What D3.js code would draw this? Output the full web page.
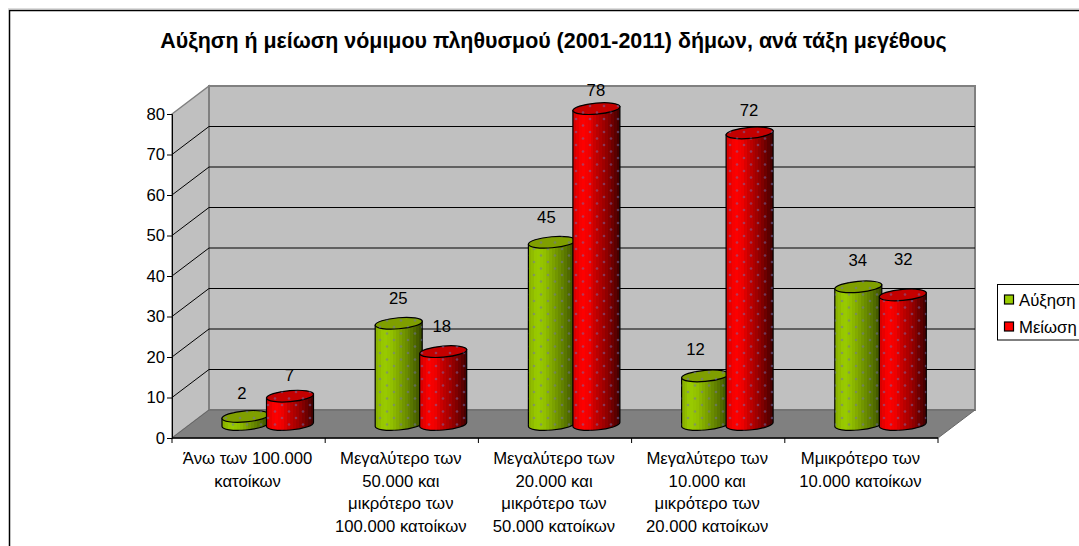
<!DOCTYPE html>
<html><head><meta charset="utf-8">
<script src="https://cdn.jsdelivr.net/npm/d3@7"></script>
<style>html,body{margin:0;padding:0;background:#fff}svg{display:block}text{font-family:"Liberation Sans",Arial,sans-serif;fill:#000}</style>
</head><body><svg id="c" width="1079" height="546"></svg>
<script>
const title = "Αύξηση ή μείωση νόμιμου πληθυσμού (2001-2011) δήμων, ανά τάξη μεγέθους";
const categories = [
  ["Άνω των 100.000","κατοίκων"],
  ["Μεγαλύτερο των","50.000 και","μικρότερο των","100.000 κατοίκων"],
  ["Μεγαλύτερο των","20.000 και","μικρότερο των","50.000 κατοίκων"],
  ["Μεγαλύτερο των","10.000 και","μικρότερο των","20.000 κατοίκων"],
  ["Μμικρότερο των","10.000 κατοίκων"]
];
const seriesNames = ["Αύξηση","Μείωση"];
const increase = [2,25,45,12,34];
const decrease = [7,18,78,72,32];
const yTicks = [0,10,20,30,40,50,60,70,80];

const svg = d3.select("#c");
const X0=172, X1=938, Y0=438, Y80=114, DX=37, DY=-28;
const x = d3.scaleBand().domain(d3.range(categories.length)).range([X0,X1]);
const y = d3.scaleLinear().domain([0,80]).range([Y0,Y80]);
const inner = d3.scaleBand().domain([0,1]).range([50,139]);
const FS=16.7;

// Chart frame
svg.append("path").attr("d","M9.5,546V10.5H1079").attr("fill","none").attr("stroke","#000").attr("stroke-width",1.5);
svg.append("path").attr("d","M8,9H1079").attr("stroke","#bbb").attr("stroke-width",1);

svg.append("text").attr("x",553.5).attr("y",48).attr("text-anchor","middle")
  .attr("font-size",21.4).attr("font-weight","bold").text(title);

// Gradients + dots
const defs = svg.append("defs");
const ramps = [
  {id:"g0",stops:["#8ab200","#9acc00","#92c000","#7fa600","#6a8c00","#557000","#3c5000"],top:"#7f9f00"},
  {id:"g1",stops:["#d80000","#ff0000","#ee0000","#c00000","#a00000","#780000","#480000"],top:"#c40000"}
];
const N=16;
ramps.forEach(r=>{
  const ip = d3.piecewise(d3.interpolateRgb, r.stops);
  const g = defs.append("linearGradient").attr("id",r.id).attr("x1",0).attr("x2",1).attr("y1",0).attr("y2",0);
  d3.range(N).forEach(i=>{
    g.append("stop").attr("offset",i/N).attr("stop-color",ip(i/(N-1)));
    g.append("stop").attr("offset",(i+1)/N).attr("stop-color",ip(i/(N-1)));
  });
});
const pat = defs.append("pattern").attr("id","dots").attr("patternUnits","userSpaceOnUse")
  .attr("width",14).attr("height",13);
[[2,2],[9,8.5]].forEach(p=>pat.append("circle").attr("cx",p[0]).attr("cy",p[1]).attr("r",1.3)
  .attr("fill","#7070b0").attr("opacity",.5));

// Walls and floor
const wall="#c0c0c0", edge="#808080";
svg.append("path").attr("d",`M${X0},${Y80}L${X0+DX},${Y80+DY}V${Y0+DY}L${X0},${Y0}Z`).attr("fill",wall).attr("stroke",edge).attr("stroke-width",1.5);
svg.append("path").attr("d",`M${X0+DX},${Y80+DY}H${X1+DX}V${Y0+DY}H${X0+DX}Z`).attr("fill",wall).attr("stroke",edge).attr("stroke-width",2);
svg.append("path").attr("d",`M${X0},${Y0}L${X0+DX},${Y0+DY}H${X1+DX}L${X1},${Y0}Z`).attr("fill","#808080").attr("stroke","#666").attr("stroke-width",1);

// Gridlines
svg.append("g").selectAll("path").data(yTicks.filter(t=>t>0&&t<80)).join("path")
  .attr("d",t=>`M${X0},${y(t)}L${X0+DX},${y(t)+DY}H${X1+DX}`).attr("fill","none").attr("stroke","#000").attr("stroke-width",1);

// Axes
const ya = svg.append("g").attr("transform",`translate(${X0},0)`)
  .call(d3.axisLeft(y).tickValues(yTicks).tickSize(5).tickPadding(2));
ya.selectAll("text").attr("font-size",FS).style("font-family",'"Liberation Sans",Arial,sans-serif');
ya.select(".domain").attr("stroke","#000");
svg.append("path").attr("d",`M${X0},${Y0}H${X1}`).attr("stroke","#000").attr("stroke-width",1.3);
svg.append("g").selectAll("path").data(d3.range(categories.length+1)).join("path")
  .attr("d",i=>{const px=X0+i*x.bandwidth();return `M${px},${Y0}v5`;}).attr("stroke","#000");

// Category labels
svg.append("g").selectAll("text").data(categories).join("text")
  .attr("text-anchor","middle").attr("font-size",FS)
  .attr("transform",(d,i)=>`translate(${x(i)+x.bandwidth()/2-1},464)`)
  .selectAll("tspan").data(d=>d).join("tspan")
  .attr("x",0).attr("dy",(d,i)=>i?22.7:0).text(d=>d);

// Cylinders
const W=47, RY=5.5, TILT=-5, EDGE=2, BASE=8;
function cyl(g,left,val,ramp){
  const cb=y(0)-BASE-RY, ct=y(val)-BASE-RY, R=left+W, rx=W/2;
  const body=`M${left},${ct+EDGE}L${left},${cb+EDGE}A${rx},${RY} ${TILT} 0 0 ${R},${cb-EDGE}L${R},${ct-EDGE}Z`;
  const cap=`M${left},${ct+EDGE}A${rx},${RY} ${TILT} 1 0 ${R},${ct-EDGE}A${rx},${RY} ${TILT} 1 0 ${left},${ct+EDGE}Z`;
  g.append("path").attr("d",body).attr("fill",`url(#${ramp.id})`).attr("stroke","#000").attr("stroke-width",1.2);
  g.append("path").attr("d",body).attr("fill","url(#dots)");
  g.append("path").attr("d",cap).attr("fill",ramp.top).attr("stroke","#000").attr("stroke-width",1.2);
  g.append("path").attr("d",cap).attr("fill","url(#dots)");
}
const bars = svg.append("g");
categories.forEach((c,i)=>{
  cyl(bars,x(i)+inner(0),increase[i],ramps[0]);
  cyl(bars,x(i)+inner(1),decrease[i],ramps[1]);
});

// Value labels (small per-label adjustments as in the reference)
const nudgeA=[[-3,1],[0,-1],[-5,-1],[-9,-2],[0,-2]];
const nudgeB=[[0,3],[-1,-1],[0,6],[0,2],[1,-11]];
const labels = svg.append("g").attr("font-size",FS).attr("text-anchor","middle");
[[increase,0,nudgeA],[decrease,1,nudgeB]].forEach(([vals,s,n])=>{
  labels.selectAll(null).data(vals).join("text")
    .attr("x",(v,i)=>x(i)+inner(s)+23+n[i][0])
    .attr("y",(v,i)=>y(v)-BASE-30+6+n[i][1])
    .text(v=>v);
});

// Legend
const lg = svg.append("g");
lg.append("rect").attr("x",997.5).attr("y",284.5).attr("width",100).attr("height",55.5).attr("fill","#fff").attr("stroke","#000");
const lgFill=["#99cc00","#ff0000"];
seriesNames.forEach((n,i)=>{
  const ly=299.5+i*27;
  lg.append("rect").attr("x",1004.5).attr("y",ly-4.5).attr("width",9).attr("height",9).attr("fill",lgFill[i]).attr("stroke","#000").attr("stroke-width",1.2);
  lg.append("text").attr("x",1019).attr("y",ly+6).attr("font-size",FS).text(n);
});
</script></body></html>
